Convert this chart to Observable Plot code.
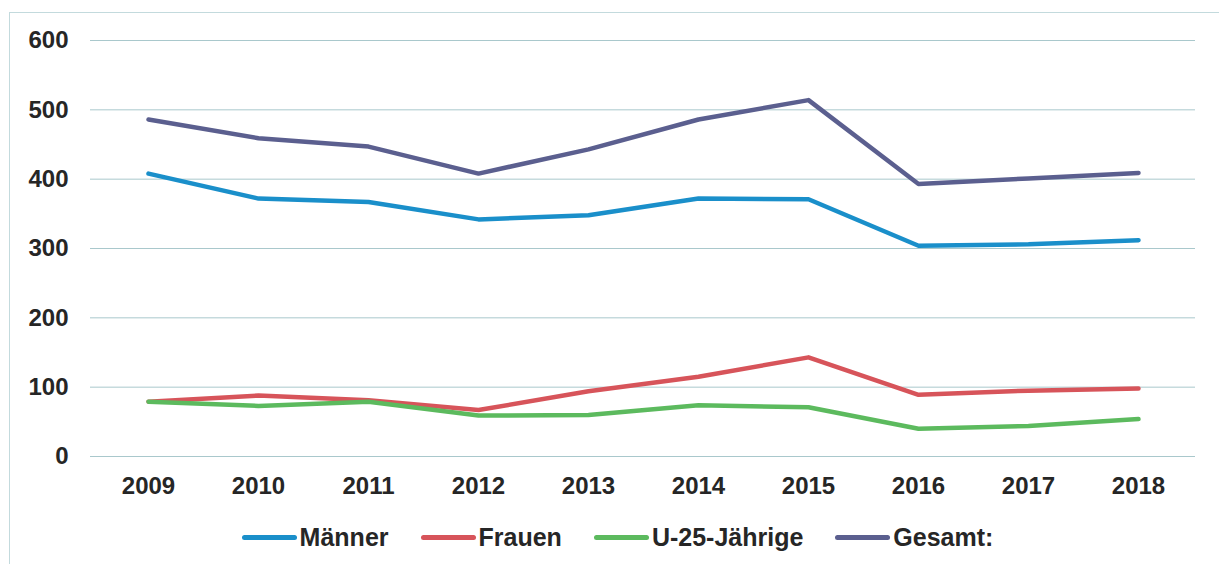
<!DOCTYPE html>
<html>
<head>
<meta charset="utf-8">
<script src="https://cdn.jsdelivr.net/npm/d3@7"></script>
<script src="https://cdn.jsdelivr.net/npm/@observablehq/plot@0.6"></script>
<style>
  html, body { margin: 0; padding: 0; background: #fff; }
  #wrap { position: relative; width: 1219px; height: 564px; overflow: hidden; font-family: "Liberation Sans", Arial, sans-serif; }
  #frame { position: absolute; left: 9px; top: 12px; width: 1230px; height: 600px; border-top: 1px solid #c3dadd; border-left: 1px solid #c3dadd; pointer-events: none; }
  #legend { position: absolute; left: 0; top: 510px; width: 1219px; height: 54px; display: flex; align-items: center; justify-content: center; gap: 32px; padding-left: 16px; box-sizing: border-box; }
  .item { display: flex; align-items: center; font-size: 25px; font-weight: bold; color: #262626; }
  .sw { width: 55px; height: 5px; border-radius: 3px; margin-right: 3px; }
</style>
</head>
<body>
<div id="wrap">
  <div id="chart"></div>
  <div id="frame"></div>
  <div id="legend"></div>
</div>
<script>
const years = ["2009","2010","2011","2012","2013","2014","2015","2016","2017","2018"];
const seriesNames = ["Männer", "Frauen", "U-25-Jährige", "Gesamt:"];
const seriesColors = ["#1a8fca", "#d7545a", "#5cba5e", "#5b5f8f"];
const maenner = [408, 372, 367, 342, 348, 372, 371, 304, 306, 312];
const frauen = [79, 88, 81, 67, 94, 115, 143, 89, 95, 98];
const u25 = [79, 73, 79, 59, 60, 74, 71, 40, 44, 54];
const gesamt = [486, 459, 447, 408, 443, 486, 514, 393, 401, 409];
const yTicks = [0, 100, 200, 300, 400, 500, 600];

const seriesValues = [maenner, frauen, u25, gesamt];
const data = seriesNames.flatMap((name, s) =>
  years.map((year, i) => ({ year, value: seriesValues[s][i], series: name }))
);

const chart = Plot.plot({
  width: 1219,
  height: 510,
  marginLeft: 90,
  marginRight: 24,
  marginTop: 40,
  marginBottom: 54,
  style: { fontFamily: "'Liberation Sans', Arial, sans-serif", fontSize: "24px", fontWeight: "bold", color: "#262626", background: "transparent" },
  x: { type: "point", domain: years, padding: 0.5, label: null },
  y: { domain: [0, 600], label: null },
  color: { domain: seriesNames, range: seriesColors },
  marks: [
    Plot.ruleY(yTicks, { stroke: "#a9c8cc", strokeWidth: 1 }),
    Plot.lineY(data, { x: "year", y: "value", z: "series", stroke: "series", strokeWidth: 4.5 }),
    Plot.axisX({ tickSize: 0, tickPadding: 20, label: null }),
    Plot.axisY(yTicks, { tickSize: 0, tickPadding: 22, label: null })
  ]
});
document.getElementById("chart").appendChild(chart);

const legend = document.getElementById("legend");
seriesNames.forEach((name, i) => {
  const item = document.createElement("div");
  item.className = "item";
  const sw = document.createElement("span");
  sw.className = "sw";
  sw.style.background = seriesColors[i];
  const t = document.createElement("span");
  t.textContent = name;
  item.appendChild(sw);
  item.appendChild(t);
  legend.appendChild(item);
});
</script>
</body>
</html>
